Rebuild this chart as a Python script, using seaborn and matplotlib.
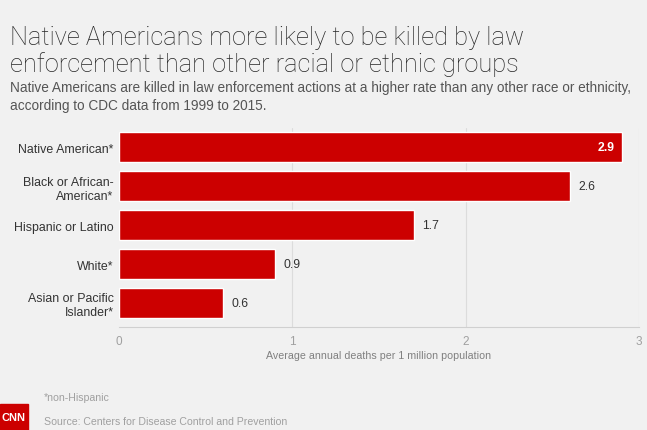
import matplotlib
matplotlib.use("Agg")
import matplotlib.pyplot as plt
import matplotlib.patches as mpatches
import seaborn as sns
import pandas as pd

# data
groups = ["Native American*", "Black or African-\nAmerican*", "Hispanic or Latino",
          "White*", "Asian or Pacific\nIslander*"]
deaths = [2.9, 2.6, 1.7, 0.9, 0.6]
xticks = [0, 1, 2, 3]

df = pd.DataFrame({"group": groups, "deaths": deaths})

sns.set_theme(style="white")
plt.rcParams["font.family"] = ["Liberation Sans", "DejaVu Sans"]

bg = "#f1f1f1"
fig = plt.figure(figsize=(6.47, 4.31), dpi=100, facecolor=bg)
ax = fig.add_axes([119/647, 1-328/431, 520/647, 199/431], facecolor=bg)

sns.barplot(data=df, x="deaths", y="group", color="#cc0000", saturation=1,
            width=0.77, ax=ax, zorder=3)

ax.set_xlim(0, 3)
ax.set_ylim(4.62, -0.5)
ax.set_xticks(xticks)
ax.set_xticklabels([str(t) for t in xticks], color="#a0a0a0", fontsize=8.5)
ax.tick_params(axis="x", length=0, pad=6)
ax.tick_params(axis="y", length=0, pad=4, labelsize=8.9, labelcolor="#333333")
for t in xticks[1:]:
    ax.axvline(t, color="#dcdcdc", lw=0.8, zorder=1)
for s in ["top", "right", "left"]:
    ax.spines[s].set_visible(False)
ax.spines["bottom"].set_color("#d0d0d0")
ax.spines["bottom"].set_linewidth(0.8)
ax.set_ylabel("")
ax.set_xlabel("Average annual deaths per 1 million population", fontsize=7.7,
              color="#808080", labelpad=2)

for i, v in enumerate(deaths):
    if i == 0:
        ax.text(v - 0.04, i, f"{v}", ha="right", va="center", color="white",
                fontsize=8.8, fontweight="bold", zorder=4)
    else:
        ax.text(v + 0.05, i, f"{v}", ha="left", va="center", color="#333333",
                fontsize=8.8, zorder=4)

title_font = dict(fontsize=18.3, color="#262626", family=["Roboto", "DejaVu Sans"],
                  fontweight="light", va="baseline")
fig.text(10/647, 1-45/431, "Native Americans more likely to be killed by law", **title_font)
fig.text(10/647, 1-72/431, "enforcement than other racial or ethnic groups", **title_font)
fig.text(10/647, 1-92/431, "Native Americans are killed in law enforcement actions at a higher rate than any other race or ethnicity,",
         fontsize=9.85, color="#555555", va="baseline")
fig.text(10/647, 1-110/431, "according to CDC data from 1999 to 2015.", fontsize=9.85,
         color="#555555", va="baseline")

fig.text(44/647, 1-401/431, "*non-Hispanic", fontsize=7.6, color="#a0a0a0")
fig.text(44/647, 1-425/431, "Source: Centers for Disease Control and Prevention", fontsize=7.6, color="#a0a0a0")
fig.patches.append(mpatches.Rectangle((0, 0), 28/647, 26/431, transform=fig.transFigure,
                                      color="#cc0000", zorder=5))
fig.text(13/647, 13/431, "CNN", fontsize=8, color="white", fontweight="bold",
         ha="center", va="center", zorder=6)

fig.savefig("out.png", dpi=100, facecolor=bg)
